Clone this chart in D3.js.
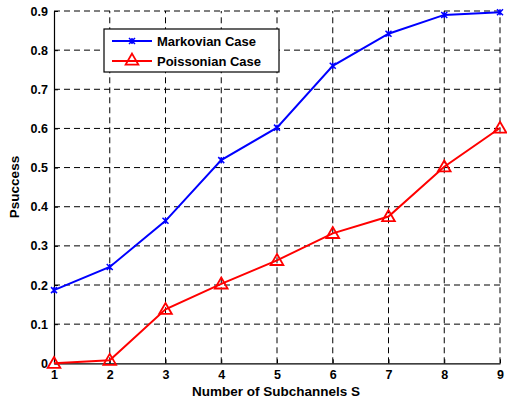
<!DOCTYPE html>
<html><head><meta charset="utf-8">
<script src="https://cdn.jsdelivr.net/npm/d3@7"></script>
<style>
body{margin:0;background:#fff;}
svg text{font-family:Arial,"Liberation Sans",sans-serif;font-weight:bold;}
</style></head>
<body><svg id="c" width="507" height="403"></svg>
<script>
const xValues = [1,2,3,4,5,6,7,8,9];
const markovian = [0.187,0.246,0.364,0.519,0.602,0.760,0.842,0.890,0.897];
const poissonian = [0.000,0.008,0.138,0.203,0.263,0.332,0.375,0.502,0.601];
const xTicks = [1,2,3,4,5,6,7,8,9];
const yTicks = [0,0.1,0.2,0.3,0.4,0.5,0.6,0.7,0.8,0.9];
const seriesNames = ["Markovian Case","Poissonian Case"];

const svg = d3.select("#c");
const x = d3.scaleLinear().domain([1,9]).range([54,500]);
const y = d3.scaleLinear().domain([0,0.9]).range([363.3,11]);

// grid
const g = svg.append("g");
g.selectAll(".vg").data(xTicks.slice(1)).join("line")
 .attr("x1",d=>x(d)).attr("x2",d=>x(d)).attr("y1",y(0)).attr("y2",y(0.9))
 .attr("stroke","#000").attr("stroke-width",1).attr("stroke-dasharray","6,4");
g.selectAll(".hg").data(yTicks.slice(1)).join("line")
 .attr("x1",x(1)).attr("x2",x(9)).attr("y1",d=>y(d)).attr("y2",d=>y(d))
 .attr("stroke","#000").attr("stroke-width",1).attr("stroke-dasharray","6,4");

// axes
const xAxis = svg.append("g").attr("transform",`translate(0,${y(0)})`)
 .call(d3.axisBottom(x).tickValues(xTicks).tickFormat(d3.format("d")).tickSizeInner(-4).tickSizeOuter(0).tickPadding(7));
const yAxis = svg.append("g").attr("transform",`translate(${x(1)},0)`)
 .call(d3.axisLeft(y).tickValues(yTicks).tickFormat(d=>d===0?"0":d3.format(".1f")(d)).tickSizeInner(-4).tickSizeOuter(0).tickPadding(6));
[xAxis,yAxis].forEach(a=>{
  a.select(".domain").attr("stroke","#000").attr("stroke-width",1.2);
  a.selectAll(".tick line").attr("stroke","#000");
  a.selectAll("text").attr("font-size",12.5).attr("fill","#000").style("font-weight","bold");
});

// lines
const line = d3.line().x((d,i)=>x(xValues[i])).y(d=>y(d));
svg.append("path").datum(markovian).attr("d",line).attr("fill","none").attr("stroke","#0000ff").attr("stroke-width",2);
svg.append("path").datum(poissonian).attr("d",line).attr("fill","none").attr("stroke","#ff0000").attr("stroke-width",2);

function xMark(sel,cx,cy){
  const s=3;
  sel.append("path").attr("d",`M${cx-s},${cy-s}L${cx+s},${cy+s}M${cx-s},${cy+s}L${cx+s},${cy-s}M${cx},${cy-s}L${cx},${cy+s}`)
   .attr("stroke","#0000ff").attr("stroke-width",1.5).attr("fill","none");
}
const tri = d3.symbol().type(d3.symbolTriangle).size(70);
svg.append("g").selectAll("g").data(markovian).join("g").each(function(d,i){xMark(d3.select(this),x(xValues[i]),y(d));});
svg.append("g").selectAll("path").data(poissonian).join("path")
 .attr("d",tri).attr("transform",(d,i)=>`translate(${x(xValues[i])},${y(d)+1})`)
 .attr("fill","none").attr("stroke","#ff0000").attr("stroke-width",1.8);

// legend
const lg = svg.append("g");
lg.append("rect").attr("x",104).attr("y",29).attr("width",175).attr("height",43).attr("fill","#fff").attr("stroke","#000").attr("stroke-width",1.2);
const ly=[41,61];
lg.append("line").attr("x1",112).attr("x2",152).attr("y1",ly[0]).attr("y2",ly[0]).attr("stroke","#0000ff").attr("stroke-width",2);
xMark(lg,132,ly[0]);
lg.append("line").attr("x1",112).attr("x2",152).attr("y1",ly[1]).attr("y2",ly[1]).attr("stroke","#ff0000").attr("stroke-width",2);
lg.append("path").attr("d",tri).attr("transform",`translate(132,${ly[1]})`).attr("fill","none").attr("stroke","#ff0000").attr("stroke-width",1.8);
lg.selectAll("text").data(seriesNames).join("text").attr("x",157).attr("y",(d,i)=>ly[i]+4.5)
 .attr("font-size",13).attr("fill","#000").text(d=>d);

// axis labels
svg.append("text").attr("x",276).attr("y",396).attr("text-anchor","middle").attr("font-size",13.5).text("Number of Subchannels S");
svg.append("text").attr("transform","translate(19,187) rotate(-90)").attr("text-anchor","middle").attr("font-size",13.5).text("Psuccess");
</script></body></html>
